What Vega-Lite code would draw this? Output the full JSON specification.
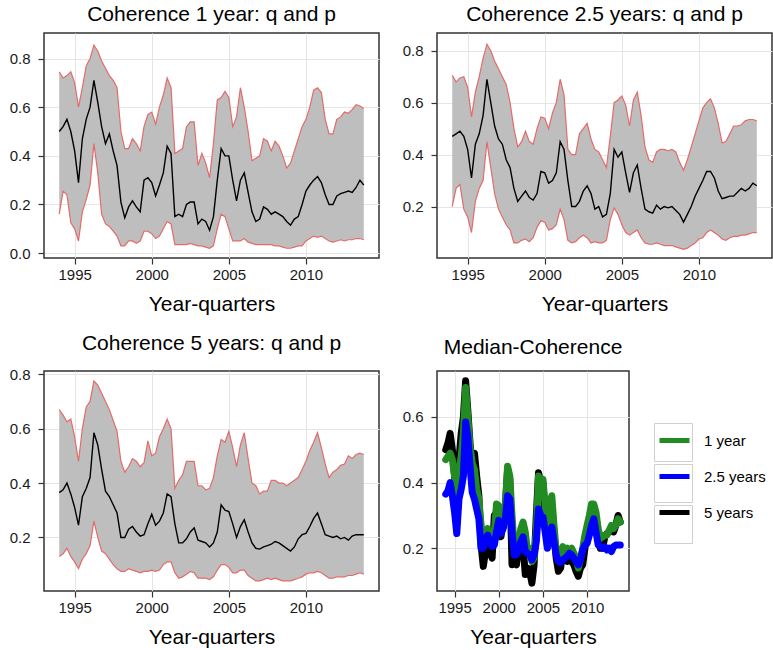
{
"$schema": "https://vega.github.io/schema/vega-lite/v6.json",
"background": "white",
"padding": {"left": 8, "top": 3, "right": 0, "bottom": 0},
"columns": 2,
"spacing": {"row": 17, "column": 21},
"align": "each",
"config": {
 "font": "Liberation Sans",
 "view": {"stroke": "#333333", "strokeWidth": 1.5},
 "axis": {"domain": false, "gridColor": "#e5e5e5", "gridWidth": 1, "tickColor": "#333333", "tickWidth": 1.2, "tickSize": 6, "labelFontSize": 15, "labelColor": "#1a1a1a", "titleFontSize": 21, "titleFontWeight": "normal", "titleColor": "#000000"},
 "axisX": {"labelPadding": 3, "titlePadding": 11},
 "axisY": {"labelPadding": 8},
 "title": {"fontSize": 21, "fontWeight": "normal", "color": "#000000"},
 "legend": {"labelFontSize": 15, "labelColor": "#000000"}
},
"datasets": {"d": [
{"t":1994.00,"l1":0.16,"m1":0.50,"u1":0.745,"l2":0.20,"m2":0.47,"u2":0.705,"l3":0.13,"m3":0.365,"u3":0.67},
{"t":1994.25,"l1":0.255,"m1":0.52,"u1":0.72,"l2":0.27,"m2":0.48,"u2":0.68,"l3":0.14,"m3":0.375,"u3":0.65},
{"t":1994.50,"l1":0.24,"m1":0.55,"u1":0.73,"l2":0.285,"m2":0.49,"u2":0.695,"l3":0.16,"m3":0.40,"u3":0.625},
{"t":1994.75,"l1":0.125,"m1":0.50,"u1":0.745,"l2":0.19,"m2":0.47,"u2":0.70,"l3":0.13,"m3":0.36,"u3":0.635},
{"t":1995.00,"l1":0.10,"m1":0.42,"u1":0.70,"l2":0.16,"m2":0.42,"u2":0.66,"l3":0.11,"m3":0.31,"u3":0.57},
{"t":1995.25,"l1":0.05,"m1":0.29,"u1":0.60,"l2":0.10,"m2":0.31,"u2":0.545,"l3":0.085,"m3":0.245,"u3":0.48},
{"t":1995.50,"l1":0.17,"m1":0.47,"u1":0.68,"l2":0.22,"m2":0.44,"u2":0.64,"l3":0.12,"m3":0.35,"u3":0.60},
{"t":1995.75,"l1":0.22,"m1":0.55,"u1":0.77,"l2":0.27,"m2":0.48,"u2":0.70,"l3":0.14,"m3":0.38,"u3":0.68},
{"t":1996.00,"l1":0.28,"m1":0.60,"u1":0.80,"l2":0.30,"m2":0.55,"u2":0.77,"l3":0.17,"m3":0.42,"u3":0.70},
{"t":1996.25,"l1":0.45,"m1":0.71,"u1":0.855,"l2":0.45,"m2":0.69,"u2":0.825,"l3":0.26,"m3":0.585,"u3":0.775},
{"t":1996.50,"l1":0.33,"m1":0.62,"u1":0.83,"l2":0.35,"m2":0.60,"u2":0.80,"l3":0.20,"m3":0.54,"u3":0.76},
{"t":1996.75,"l1":0.16,"m1":0.52,"u1":0.79,"l2":0.25,"m2":0.51,"u2":0.76,"l3":0.15,"m3":0.45,"u3":0.73},
{"t":1997.00,"l1":0.12,"m1":0.45,"u1":0.76,"l2":0.19,"m2":0.46,"u2":0.73,"l3":0.14,"m3":0.37,"u3":0.70},
{"t":1997.25,"l1":0.11,"m1":0.49,"u1":0.73,"l2":0.16,"m2":0.44,"u2":0.70,"l3":0.12,"m3":0.35,"u3":0.67},
{"t":1997.50,"l1":0.09,"m1":0.42,"u1":0.71,"l2":0.13,"m2":0.38,"u2":0.67,"l3":0.10,"m3":0.32,"u3":0.63},
{"t":1997.75,"l1":0.07,"m1":0.36,"u1":0.68,"l2":0.11,"m2":0.35,"u2":0.60,"l3":0.085,"m3":0.29,"u3":0.59},
{"t":1998.00,"l1":0.03,"m1":0.21,"u1":0.50,"l2":0.06,"m2":0.27,"u2":0.50,"l3":0.075,"m3":0.20,"u3":0.48},
{"t":1998.25,"l1":0.03,"m1":0.145,"u1":0.43,"l2":0.06,"m2":0.22,"u2":0.43,"l3":0.075,"m3":0.20,"u3":0.44},
{"t":1998.50,"l1":0.05,"m1":0.19,"u1":0.43,"l2":0.07,"m2":0.24,"u2":0.45,"l3":0.085,"m3":0.23,"u3":0.46},
{"t":1998.75,"l1":0.05,"m1":0.215,"u1":0.47,"l2":0.075,"m2":0.26,"u2":0.49,"l3":0.08,"m3":0.24,"u3":0.49},
{"t":1999.00,"l1":0.04,"m1":0.19,"u1":0.45,"l2":0.065,"m2":0.235,"u2":0.45,"l3":0.075,"m3":0.22,"u3":0.48},
{"t":1999.25,"l1":0.05,"m1":0.17,"u1":0.42,"l2":0.08,"m2":0.225,"u2":0.44,"l3":0.07,"m3":0.205,"u3":0.46},
{"t":1999.50,"l1":0.09,"m1":0.30,"u1":0.52,"l2":0.12,"m2":0.25,"u2":0.50,"l3":0.075,"m3":0.21,"u3":0.475},
{"t":1999.75,"l1":0.09,"m1":0.31,"u1":0.57,"l2":0.145,"m2":0.335,"u2":0.545,"l3":0.075,"m3":0.25,"u3":0.555},
{"t":2000.00,"l1":0.08,"m1":0.29,"u1":0.58,"l2":0.14,"m2":0.33,"u2":0.54,"l3":0.08,"m3":0.285,"u3":0.50},
{"t":2000.25,"l1":0.06,"m1":0.235,"u1":0.53,"l2":0.11,"m2":0.29,"u2":0.50,"l3":0.075,"m3":0.245,"u3":0.51},
{"t":2000.50,"l1":0.07,"m1":0.28,"u1":0.60,"l2":0.115,"m2":0.30,"u2":0.56,"l3":0.08,"m3":0.26,"u3":0.57},
{"t":2000.75,"l1":0.10,"m1":0.33,"u1":0.65,"l2":0.13,"m2":0.33,"u2":0.60,"l3":0.10,"m3":0.29,"u3":0.60},
{"t":2001.00,"l1":0.13,"m1":0.44,"u1":0.72,"l2":0.19,"m2":0.45,"u2":0.69,"l3":0.11,"m3":0.36,"u3":0.635},
{"t":2001.25,"l1":0.12,"m1":0.41,"u1":0.68,"l2":0.15,"m2":0.42,"u2":0.63,"l3":0.11,"m3":0.35,"u3":0.60},
{"t":2001.50,"l1":0.035,"m1":0.15,"u1":0.41,"l2":0.07,"m2":0.30,"u2":0.42,"l3":0.07,"m3":0.25,"u3":0.38},
{"t":2001.75,"l1":0.035,"m1":0.16,"u1":0.42,"l2":0.06,"m2":0.20,"u2":0.40,"l3":0.05,"m3":0.18,"u3":0.41},
{"t":2002.00,"l1":0.035,"m1":0.15,"u1":0.43,"l2":0.065,"m2":0.20,"u2":0.40,"l3":0.055,"m3":0.18,"u3":0.43},
{"t":2002.25,"l1":0.035,"m1":0.20,"u1":0.52,"l2":0.08,"m2":0.22,"u2":0.48,"l3":0.065,"m3":0.195,"u3":0.48},
{"t":2002.50,"l1":0.04,"m1":0.21,"u1":0.54,"l2":0.09,"m2":0.26,"u2":0.50,"l3":0.075,"m3":0.22,"u3":0.48},
{"t":2002.75,"l1":0.035,"m1":0.21,"u1":0.54,"l2":0.08,"m2":0.28,"u2":0.52,"l3":0.07,"m3":0.235,"u3":0.48},
{"t":2003.00,"l1":0.03,"m1":0.12,"u1":0.36,"l2":0.06,"m2":0.25,"u2":0.46,"l3":0.05,"m3":0.19,"u3":0.39},
{"t":2003.25,"l1":0.03,"m1":0.14,"u1":0.41,"l2":0.065,"m2":0.19,"u2":0.42,"l3":0.05,"m3":0.185,"u3":0.39},
{"t":2003.50,"l1":0.025,"m1":0.13,"u1":0.37,"l2":0.06,"m2":0.20,"u2":0.41,"l3":0.05,"m3":0.18,"u3":0.375},
{"t":2003.75,"l1":0.02,"m1":0.094,"u1":0.31,"l2":0.06,"m2":0.16,"u2":0.38,"l3":0.045,"m3":0.165,"u3":0.38},
{"t":2004.00,"l1":0.03,"m1":0.15,"u1":0.45,"l2":0.07,"m2":0.17,"u2":0.35,"l3":0.055,"m3":0.18,"u3":0.42},
{"t":2004.25,"l1":0.10,"m1":0.30,"u1":0.63,"l2":0.15,"m2":0.25,"u2":0.47,"l3":0.08,"m3":0.22,"u3":0.50},
{"t":2004.50,"l1":0.16,"m1":0.43,"u1":0.64,"l2":0.195,"m2":0.42,"u2":0.60,"l3":0.10,"m3":0.32,"u3":0.56},
{"t":2004.75,"l1":0.15,"m1":0.40,"u1":0.665,"l2":0.17,"m2":0.39,"u2":0.61,"l3":0.10,"m3":0.30,"u3":0.55},
{"t":2005.00,"l1":0.10,"m1":0.40,"u1":0.64,"l2":0.13,"m2":0.41,"u2":0.625,"l3":0.09,"m3":0.295,"u3":0.59},
{"t":2005.25,"l1":0.05,"m1":0.30,"u1":0.52,"l2":0.10,"m2":0.33,"u2":0.59,"l3":0.07,"m3":0.25,"u3":0.53},
{"t":2005.50,"l1":0.05,"m1":0.215,"u1":0.56,"l2":0.09,"m2":0.255,"u2":0.51,"l3":0.07,"m3":0.20,"u3":0.46},
{"t":2005.75,"l1":0.05,"m1":0.30,"u1":0.68,"l2":0.10,"m2":0.33,"u2":0.61,"l3":0.08,"m3":0.24,"u3":0.54},
{"t":2006.00,"l1":0.06,"m1":0.33,"u1":0.60,"l2":0.11,"m2":0.36,"u2":0.64,"l3":0.08,"m3":0.265,"u3":0.585},
{"t":2006.25,"l1":0.045,"m1":0.25,"u1":0.50,"l2":0.08,"m2":0.27,"u2":0.55,"l3":0.06,"m3":0.22,"u3":0.49},
{"t":2006.50,"l1":0.04,"m1":0.17,"u1":0.38,"l2":0.06,"m2":0.19,"u2":0.43,"l3":0.05,"m3":0.18,"u3":0.40},
{"t":2006.75,"l1":0.035,"m1":0.13,"u1":0.39,"l2":0.055,"m2":0.18,"u2":0.38,"l3":0.04,"m3":0.16,"u3":0.39},
{"t":2007.00,"l1":0.035,"m1":0.14,"u1":0.40,"l2":0.055,"m2":0.175,"u2":0.37,"l3":0.04,"m3":0.157,"u3":0.36},
{"t":2007.25,"l1":0.035,"m1":0.19,"u1":0.47,"l2":0.06,"m2":0.205,"u2":0.41,"l3":0.045,"m3":0.165,"u3":0.37},
{"t":2007.50,"l1":0.035,"m1":0.18,"u1":0.46,"l2":0.055,"m2":0.19,"u2":0.42,"l3":0.05,"m3":0.17,"u3":0.37},
{"t":2007.75,"l1":0.035,"m1":0.16,"u1":0.42,"l2":0.05,"m2":0.20,"u2":0.42,"l3":0.045,"m3":0.175,"u3":0.41},
{"t":2008.00,"l1":0.03,"m1":0.17,"u1":0.46,"l2":0.05,"m2":0.195,"u2":0.415,"l3":0.05,"m3":0.185,"u3":0.41},
{"t":2008.25,"l1":0.03,"m1":0.16,"u1":0.44,"l2":0.05,"m2":0.20,"u2":0.42,"l3":0.045,"m3":0.18,"u3":0.40},
{"t":2008.50,"l1":0.025,"m1":0.15,"u1":0.40,"l2":0.045,"m2":0.185,"u2":0.41,"l3":0.04,"m3":0.17,"u3":0.40},
{"t":2008.75,"l1":0.02,"m1":0.13,"u1":0.35,"l2":0.04,"m2":0.17,"u2":0.37,"l3":0.04,"m3":0.16,"u3":0.39},
{"t":2009.00,"l1":0.02,"m1":0.115,"u1":0.37,"l2":0.035,"m2":0.14,"u2":0.34,"l3":0.04,"m3":0.15,"u3":0.40},
{"t":2009.25,"l1":0.025,"m1":0.14,"u1":0.42,"l2":0.04,"m2":0.17,"u2":0.38,"l3":0.045,"m3":0.165,"u3":0.41},
{"t":2009.50,"l1":0.03,"m1":0.15,"u1":0.47,"l2":0.05,"m2":0.20,"u2":0.43,"l3":0.05,"m3":0.195,"u3":0.42},
{"t":2009.75,"l1":0.03,"m1":0.20,"u1":0.52,"l2":0.06,"m2":0.24,"u2":0.48,"l3":0.055,"m3":0.21,"u3":0.45},
{"t":2010.00,"l1":0.05,"m1":0.255,"u1":0.55,"l2":0.075,"m2":0.27,"u2":0.53,"l3":0.065,"m3":0.215,"u3":0.48},
{"t":2010.25,"l1":0.06,"m1":0.28,"u1":0.60,"l2":0.08,"m2":0.30,"u2":0.58,"l3":0.07,"m3":0.24,"u3":0.52},
{"t":2010.50,"l1":0.07,"m1":0.30,"u1":0.67,"l2":0.10,"m2":0.335,"u2":0.60,"l3":0.07,"m3":0.27,"u3":0.55},
{"t":2010.75,"l1":0.065,"m1":0.315,"u1":0.68,"l2":0.11,"m2":0.335,"u2":0.615,"l3":0.075,"m3":0.29,"u3":0.585},
{"t":2011.00,"l1":0.07,"m1":0.29,"u1":0.66,"l2":0.10,"m2":0.31,"u2":0.58,"l3":0.07,"m3":0.25,"u3":0.53},
{"t":2011.25,"l1":0.06,"m1":0.24,"u1":0.55,"l2":0.09,"m2":0.26,"u2":0.52,"l3":0.06,"m3":0.21,"u3":0.47},
{"t":2011.50,"l1":0.05,"m1":0.20,"u1":0.49,"l2":0.075,"m2":0.23,"u2":0.445,"l3":0.05,"m3":0.205,"u3":0.42},
{"t":2011.75,"l1":0.045,"m1":0.20,"u1":0.49,"l2":0.07,"m2":0.235,"u2":0.45,"l3":0.05,"m3":0.20,"u3":0.44},
{"t":2012.00,"l1":0.05,"m1":0.235,"u1":0.55,"l2":0.08,"m2":0.24,"u2":0.48,"l3":0.055,"m3":0.205,"u3":0.45},
{"t":2012.25,"l1":0.055,"m1":0.245,"u1":0.56,"l2":0.085,"m2":0.24,"u2":0.51,"l3":0.055,"m3":0.195,"u3":0.465},
{"t":2012.50,"l1":0.05,"m1":0.25,"u1":0.58,"l2":0.085,"m2":0.255,"u2":0.51,"l3":0.055,"m3":0.20,"u3":0.47},
{"t":2012.75,"l1":0.055,"m1":0.255,"u1":0.575,"l2":0.09,"m2":0.27,"u2":0.515,"l3":0.06,"m3":0.19,"u3":0.50},
{"t":2013.00,"l1":0.055,"m1":0.25,"u1":0.59,"l2":0.09,"m2":0.26,"u2":0.53,"l3":0.06,"m3":0.205,"u3":0.49},
{"t":2013.25,"l1":0.06,"m1":0.27,"u1":0.61,"l2":0.095,"m2":0.27,"u2":0.535,"l3":0.065,"m3":0.21,"u3":0.505},
{"t":2013.50,"l1":0.06,"m1":0.30,"u1":0.605,"l2":0.10,"m2":0.29,"u2":0.535,"l3":0.07,"m3":0.21,"u3":0.51},
{"t":2013.75,"l1":0.055,"m1":0.28,"u1":0.595,"l2":0.10,"m2":0.28,"u2":0.53,"l3":0.065,"m3":0.21,"u3":0.505}
]},
"concat": [
{
 "title": {"text": "Coherence 1 year: q and p", "offset": 8},
 "width": 335, "height": 225,
 "data": {"name": "d"},
 "encoding": {"x": {"field": "t", "type": "quantitative", "scale": {"domain": [1993.0125, 2014.7375], "nice": false, "zero": false}, "axis": {"values": [1995, 2000, 2005, 2010], "format": "d", "title": "Year-quarters"}}},
 "layer": [
  {"mark": {"type": "area", "color": "#bebebe"}, "encoding": {"y": {"field": "u1", "type": "quantitative", "title": null, "scale": {"domain": [-0.02, 0.905], "nice": false, "zero": false}, "axis": {"values": [0, 0.2, 0.4, 0.6, 0.8], "format": ".1f"}}, "y2": {"field": "l1"}}},
  {"mark": {"type": "line", "color": "#e36b6b", "strokeWidth": 1.2}, "encoding": {"y": {"field": "u1", "type": "quantitative", "title": null, "scale": {"domain": [-0.02, 0.905], "nice": false, "zero": false}}}},
  {"mark": {"type": "line", "color": "#e36b6b", "strokeWidth": 1.2}, "encoding": {"y": {"field": "l1", "type": "quantitative", "title": null, "scale": {"domain": [-0.02, 0.905], "nice": false, "zero": false}}}},
  {"mark": {"type": "line", "color": "#000000", "strokeWidth": 1.4}, "encoding": {"y": {"field": "m1", "type": "quantitative", "title": null, "scale": {"domain": [-0.02, 0.905], "nice": false, "zero": false}}}}
 ]
},
{
 "title": {"text": "Coherence 2.5 years: q and p", "offset": 8},
 "width": 335, "height": 225,
 "data": {"name": "d"},
 "encoding": {"x": {"field": "t", "type": "quantitative", "scale": {"domain": [1993.0125, 2014.7375], "nice": false, "zero": false}, "axis": {"values": [1995, 2000, 2005, 2010], "format": "d", "title": "Year-quarters"}}},
 "layer": [
  {"mark": {"type": "area", "color": "#bebebe"}, "encoding": {"y": {"field": "u2", "type": "quantitative", "title": null, "scale": {"domain": [0.002, 0.868], "nice": false, "zero": false}, "axis": {"values": [0.2, 0.4, 0.6, 0.8], "format": ".1f"}}, "y2": {"field": "l2"}}},
  {"mark": {"type": "line", "color": "#e36b6b", "strokeWidth": 1.2}, "encoding": {"y": {"field": "u2", "type": "quantitative", "title": null, "scale": {"domain": [0.002, 0.868], "nice": false, "zero": false}}}},
  {"mark": {"type": "line", "color": "#e36b6b", "strokeWidth": 1.2}, "encoding": {"y": {"field": "l2", "type": "quantitative", "title": null, "scale": {"domain": [0.002, 0.868], "nice": false, "zero": false}}}},
  {"mark": {"type": "line", "color": "#000000", "strokeWidth": 1.4}, "encoding": {"y": {"field": "m2", "type": "quantitative", "title": null, "scale": {"domain": [0.002, 0.868], "nice": false, "zero": false}}}}
 ]
},
{
 "title": {"text": "Coherence 5 years: q and p", "offset": 13},
 "width": 335, "height": 220,
 "data": {"name": "d"},
 "encoding": {"x": {"field": "t", "type": "quantitative", "scale": {"domain": [1993.0125, 2014.7375], "nice": false, "zero": false}, "axis": {"values": [1995, 2000, 2005, 2010], "format": "d", "title": "Year-quarters"}}},
 "layer": [
  {"mark": {"type": "area", "color": "#bebebe"}, "encoding": {"y": {"field": "u3", "type": "quantitative", "title": null, "scale": {"domain": [0.003, 0.812], "nice": false, "zero": false}, "axis": {"values": [0.2, 0.4, 0.6, 0.8], "format": ".1f"}}, "y2": {"field": "l3"}}},
  {"mark": {"type": "line", "color": "#e36b6b", "strokeWidth": 1.2}, "encoding": {"y": {"field": "u3", "type": "quantitative", "title": null, "scale": {"domain": [0.003, 0.812], "nice": false, "zero": false}}}},
  {"mark": {"type": "line", "color": "#e36b6b", "strokeWidth": 1.2}, "encoding": {"y": {"field": "l3", "type": "quantitative", "title": null, "scale": {"domain": [0.003, 0.812], "nice": false, "zero": false}}}},
  {"mark": {"type": "line", "color": "#000000", "strokeWidth": 1.4}, "encoding": {"y": {"field": "m3", "type": "quantitative", "title": null, "scale": {"domain": [0.003, 0.812], "nice": false, "zero": false}}}}
 ]
},
{
 "title": {"text": "Median-Coherence", "offset": 13},
 "width": 192, "height": 220,
 "data": {"name": "d"},
 "transform": [{"fold": ["m1", "m2", "m3"], "as": ["series", "value"]}],
 "encoding": {
  "x": {"field": "t", "type": "quantitative", "scale": {"domain": [1993.0125, 2014.7375], "nice": false, "zero": false}, "axis": {"values": [1995, 2000, 2005, 2010], "format": "d", "title": "Year-quarters"}},
  "y": {"field": "value", "type": "quantitative", "title": null, "scale": {"domain": [0.07, 0.74], "nice": false, "zero": false}, "axis": {"values": [0.2, 0.4, 0.6], "format": ".1f"}}
 },
 "layer": [
  {"transform": [{"filter": "datum.series == 'm1'"}], "mark": {"type": "line", "strokeWidth": 7, "strokeCap": "round", "strokeJoin": "round"},
   "encoding": {"color": {"field": "series", "type": "nominal", "scale": {"domain": ["m2", "m3", "m1"], "range": ["#228b22", "#0000ff", "#000000"]},
     "legend": {"orient": "none", "legendX": 613, "legendY": 390, "title": null, "symbolType": "stroke", "symbolStrokeWidth": 5, "symbolSize": 900, "labelFontSize": 15, "labelOffset": 12, "rowPadding": 8, "padding": 0, "labelExpr": "datum.label == 'm2' ? '1 year' : datum.label == 'm3' ? '2.5 years' : '5 years'"}}}},
  {"transform": [{"filter": "datum.series == 'm2'"}], "mark": {"type": "line", "strokeWidth": 7, "strokeCap": "round", "strokeJoin": "round"},
   "encoding": {"color": {"field": "series", "type": "nominal", "scale": {"domain": ["m2", "m3", "m1"], "range": ["#228b22", "#0000ff", "#000000"]}}}},
  {"transform": [{"filter": "datum.series == 'm3'"}], "mark": {"type": "line", "strokeWidth": 7, "strokeCap": "round", "strokeJoin": "round"},
   "encoding": {"color": {"field": "series", "type": "nominal", "scale": {"domain": ["m2", "m3", "m1"], "range": ["#228b22", "#0000ff", "#000000"]}}}},
  {"mark": {"type": "point", "size": 0},
   "encoding": {"shape": {"field": "series", "type": "nominal", "scale": {"domain": ["m1", "m2", "m3"], "range": ["square", "square", "square"]},
     "legend": {"orient": "none", "legendX": 610, "legendY": 390, "title": null, "symbolSize": 1444, "symbolFillColor": "transparent", "symbolStrokeColor": "#d0d0d0", "symbolStrokeWidth": 1, "symbolOpacity": 1, "labelExpr": "''", "rowPadding": -6, "padding": 0}}}}
 ]
}
]
}
